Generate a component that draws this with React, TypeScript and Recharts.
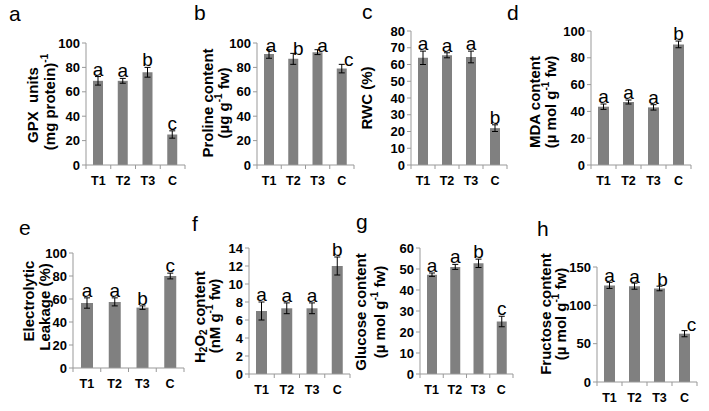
import React from 'react';
import { BarChart, Bar, XAxis, YAxis, ErrorBar, LabelList } from 'recharts';

const categories = ['T1', 'T2', 'T3', 'C'];

const gpxValues = [69, 69, 76, 25];
const gpxErrors = [3.5, 2, 4, 3];
const gpxLetters = ['a', 'a', 'b', 'c'];
const gpxTicks = [0, 20, 40, 60, 80, 100];

const prolineValues = [91, 87, 92.5, 79];
const prolineErrors = [3.5, 4.5, 2, 3.5];
const prolineLetters = ['a', 'b', 'a', 'c'];
const prolineTicks = [0, 20, 40, 60, 80, 100];

const rwcValues = [64, 65.5, 64.5, 22];
const rwcErrors = [4, 1.5, 3.5, 2];
const rwcLetters = ['a', 'a', 'a', 'b'];
const rwcTicks = [0, 10, 20, 30, 40, 50, 60, 70, 80];

const mdaValues = [43.5, 47, 43, 90];
const mdaErrors = [2, 1.5, 2, 2.5];
const mdaLetters = ['a', 'a', 'a', 'b'];
const mdaTicks = [0, 20, 40, 60, 80, 100];

const elValues = [56.5, 57.5, 52.5, 80];
const elErrors = [4.5, 3.5, 1.5, 2.5];
const elLetters = ['a', 'a', 'b', 'c'];
const elTicks = [0, 20, 40, 60, 80, 100];

const h2o2Values = [7, 7.3, 7.3, 12];
const h2o2Errors = [1, 0.6, 0.6, 1];
const h2o2Letters = ['a', 'a', 'a', 'b'];
const h2o2Ticks = [0, 2, 4, 6, 8, 10, 12, 14];

const glucoseValues = [47.3, 51, 52.7, 25];
const glucoseErrors = [0.8, 1.2, 2, 2.5];
const glucoseLetters = ['a', 'a', 'b', 'c'];
const glucoseTicks = [0, 10, 20, 30, 40, 50, 60];

const fructoseValues = [126, 125, 122, 63];
const fructoseErrors = [4, 4, 3, 4];
const fructoseLetters = ['a', 'a', 'b', 'c'];
const fructoseTicks = [0, 50, 100, 150];

const FONT = "'Liberation Sans', Arial, sans-serif";
const AXIS = '#999999';
const BAR = '#808080';

type PanelCfg = {
  id: string;
  values: number[];
  errors: number[];
  letters: string[];
  ticks: number[];
  x0: number;
  x1: number;
  yTop: number;
  y0: number;
  labelDx?: number[];
  labelGap?: number;
};

const panels: PanelCfg[] = [
  { id: 'a', values: gpxValues, errors: gpxErrors, letters: gpxLetters, ticks: gpxTicks, x0: 86, x1: 185, yTop: 43, y0: 165 },
  { id: 'b', values: prolineValues, errors: prolineErrors, letters: prolineLetters, ticks: prolineTicks, x0: 257, x1: 354, yTop: 43, y0: 165, labelDx: [2, 5, 5, 7], labelGap: -2 },
  { id: 'c', values: rwcValues, errors: rwcErrors, letters: rwcLetters, ticks: rwcTicks, x0: 411, x1: 507, yTop: 31, y0: 165 },
  { id: 'd', values: mdaValues, errors: mdaErrors, letters: mdaLetters, ticks: mdaTicks, x0: 591, x1: 691, yTop: 31, y0: 165 },
  { id: 'e', values: elValues, errors: elErrors, letters: elLetters, ticks: elTicks, x0: 73, x1: 184, yTop: 253, y0: 368 },
  { id: 'f', values: h2o2Values, errors: h2o2Errors, letters: h2o2Letters, ticks: h2o2Ticks, x0: 249, x1: 350, yTop: 248, y0: 374 },
  { id: 'g', values: glucoseValues, errors: glucoseErrors, letters: glucoseLetters, ticks: glucoseTicks, x0: 420, x1: 513, yTop: 248, y0: 374 },
  { id: 'h', values: fructoseValues, errors: fructoseErrors, letters: fructoseLetters, ticks: fructoseTicks, x0: 597, x1: 697, yTop: 267, y0: 382, labelDx: [0, 0, 3, 7], labelGap: 0 },
];

function Panel({ cfg }: { cfg: PanelCfg }) {
  const yW = 45;
  const mTop = 16;
  const mRight = 6;
  const xH = 30;
  const plotW = cfg.x1 - cfg.x0;
  const plotH = cfg.y0 - cfg.yTop;
  const bw = plotW / categories.length;
  const axisY = mTop + plotH;
  const data = categories.map((c, i) => ({
    cat: c,
    value: cfg.values[i],
    err: cfg.errors[i],
    sig: cfg.letters[i],
  }));
  const dx = cfg.labelDx || [0, 0, 0, 0];
  const gap = cfg.labelGap ?? 1;

  const renderTick = (props: any) => {
    const { x, payload } = props;
    const i = payload?.index ?? props.index ?? 0;
    return (
      <g>
        <line x1={x - bw / 2} x2={x - bw / 2} y1={axisY} y2={axisY + 4} stroke={AXIS} />
        {i === categories.length - 1 && (
          <line x1={x + bw / 2} x2={x + bw / 2} y1={axisY} y2={axisY + 4} stroke={AXIS} />
        )}
        <text x={x} y={axisY + 20} textAnchor="middle" fontSize={12.5} fontWeight="bold" fill="#000" fontFamily={FONT}>
          {payload.value}
        </text>
      </g>
    );
  };

  const renderSig = (props: any) => {
    const vb = props.viewBox && props.viewBox.width !== undefined ? props.viewBox : props;
    const { x, y, width, height } = vb;
    const index = props.index ?? 0;
    const d = data[index];
    if (!d) return null;
    const pxPerUnit = height / d.value;
    const errTop = y - d.err * pxPerUnit;
    return (
      <text x={x + width / 2 + dx[index]} y={errTop - gap} textAnchor="middle" fontSize={19} fill="#000" fontFamily={FONT}>
        {d.sig}
      </text>
    );
  };

  return (
    <div style={{ position: 'absolute', left: cfg.x0 - yW, top: cfg.yTop - mTop }}>
      <BarChart
        width={plotW + yW + mRight}
        height={plotH + mTop + xH}
        data={data}
        margin={{ top: mTop, right: mRight, bottom: 0, left: 0 }}
      >
        <XAxis
          dataKey="cat"
          tickLine={false}
          axisLine={{ stroke: AXIS }}
          tick={renderTick}
          height={xH}
          interval={0}
        />
        <YAxis
          type="number"
          domain={[cfg.ticks[0], cfg.ticks[cfg.ticks.length - 1]]}
          ticks={cfg.ticks}
          interval={0}
          width={yW}
          tickSize={4}
          tickMargin={2}
          axisLine={{ stroke: AXIS }}
          tickLine={{ stroke: AXIS }}
          tick={{ fontSize: 13, fontWeight: 'bold', fill: '#000', fontFamily: FONT }}
          allowDataOverflow
        />
        <Bar dataKey="value" fill={BAR} barSize={Math.round(bw * 0.42)} isAnimationActive={false}>
          <ErrorBar dataKey="err" width={3} stroke="#000" strokeWidth={1} />
          <LabelList dataKey="sig" content={renderSig} />
        </Bar>
      </BarChart>
    </div>
  );
}

const T = { fontFamily: FONT, fontWeight: 'bold' as const, fontSize: 15, fill: '#000' };

function VTitle({ x, cy, children }: { x: number; cy: number; children: React.ReactNode }) {
  return (
    <text transform={`translate(${x},${cy}) rotate(-90)`} textAnchor="middle" dominantBaseline="central" style={{ whiteSpace: 'pre' }} {...T}>
      {children}
    </text>
  );
}

const sup = (s: string) => (
  <tspan dy={-5} fontSize={10}>{s}</tspan>
);

function Overlay() {
  const L = { fontFamily: FONT, fontSize: 21, fill: '#000' };
  return (
    <svg width={709} height={411} style={{ position: 'absolute', left: 0, top: 0, pointerEvents: 'none' }}>
      <text x={9} y={21} {...L}>a</text>
      <text x={194} y={20} {...L}>b</text>
      <text x={362} y={19} {...L}>c</text>
      <text x={507} y={20} {...L}>d</text>
      <text x={19} y={235} {...L}>e</text>
      <text x={192} y={231} {...L}>f</text>
      <text x={356} y={229} {...L}>g</text>
      <text x={537} y={236} {...L}>h</text>

      <VTitle x={32} cy={105}>GPX  units</VTitle>
      <VTitle x={49} cy={102}>(mg protein){sup('-1')}</VTitle>

      <VTitle x={207} cy={103}>Proline content</VTitle>
      <VTitle x={223} cy={103}>(µg g{sup('-1')}<tspan dy={5}> fw)</tspan></VTitle>

      <VTitle x={366} cy={98}>RWC (%)</VTitle>

      <VTitle x={534} cy={102}>MDA content</VTitle>
      <VTitle x={550} cy={102}>(µ mol g{sup('-1')}<tspan dy={5}> fw)</tspan></VTitle>

      <VTitle x={28} cy={301}>Electrolytic</VTitle>
      <VTitle x={44} cy={307}>Leakage (%)</VTitle>

      <VTitle x={199} cy={317}>H<tspan dy={4} fontSize={10}>2</tspan><tspan dy={-4}>O</tspan><tspan dy={4} fontSize={10}>2</tspan><tspan dy={-4}> content</tspan></VTitle>
      <VTitle x={214} cy={316}>(nM g{sup('-1')}<tspan dy={5}> fw)</tspan></VTitle>

      <VTitle x={360} cy={312}>Glucose content</VTitle>
      <VTitle x={379} cy={312}>(µ mol g{sup('-1')}<tspan dy={5}> fw)</tspan></VTitle>

      <VTitle x={545} cy={314}>Fructose content</VTitle>
      <VTitle x={560} cy={314}>(µ mol g{sup('-1')}<tspan dy={5}> fw)</tspan></VTitle>
    </svg>
  );
}

export default function App() {
  return (
    <div style={{ position: 'absolute', left: 0, top: 0, width: 709, height: 411, background: '#fff', overflow: 'hidden' }}>
      {panels.map((p) => (
        <Panel key={p.id} cfg={p} />
      ))}
      <Overlay />
    </div>
  );
}
